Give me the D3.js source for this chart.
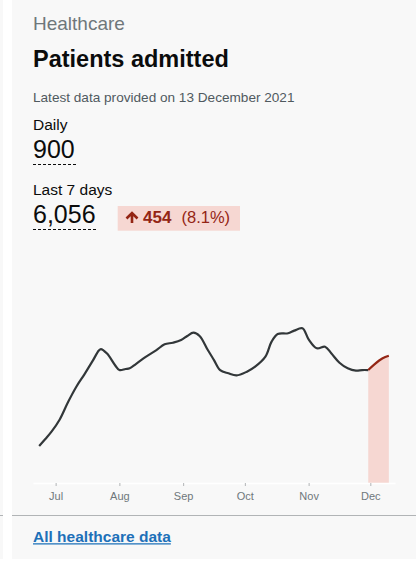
<!DOCTYPE html>
<html>
<head>
<meta charset="utf-8">
<script src="https://cdn.jsdelivr.net/npm/d3@7"></script>
<style>
  html, body { margin: 0; padding: 0; background: #fff; }
  svg { display: block; font-family: "Liberation Sans", Arial, sans-serif; }
</style>
</head>
<body>
<div id="card"></div>
<script>
// 7 day average of patients admitted
var dates = ['2021-06-23', '2021-06-26', '2021-06-29', '2021-07-03', '2021-07-07', '2021-07-11',
    '2021-07-15', '2021-07-19', '2021-07-22', '2021-07-23', '2021-07-26', '2021-07-30', '2021-08-01',
    '2021-08-04', '2021-08-06', '2021-08-09',
    '2021-08-14', '2021-08-19', '2021-08-23', '2021-08-27', '2021-08-31', '2021-09-03', '2021-09-06',
    '2021-09-09', '2021-09-13', '2021-09-16', '2021-09-19', '2021-09-23', '2021-09-27', '2021-10-02',
    '2021-10-06', '2021-10-11', '2021-10-14', '2021-10-17', '2021-10-22', '2021-10-25', '2021-10-29',
    '2021-11-01', '2021-11-05', '2021-11-09', '2021-11-12', '2021-11-16', '2021-11-20', '2021-11-24',
    '2021-11-27', '2021-11-30', '2021-12-03', '2021-12-07', '2021-12-10'];
var values = [252, 299, 349, 432, 549, 653,
    739, 830, 901, 911, 880, 799, 768,
    775, 780, 809,
    859, 904, 943, 954, 972, 1000, 1022,
    1000, 904, 836, 768, 746, 732, 757,
    791, 859, 961, 1013, 1018, 1036, 1052,
    977, 916, 927, 882, 818, 780, 764,
    768, 768, 807, 848, 865];
var highlight_from = '2021-11-30';
var x_domain = ['2021-06-20', '2021-12-13'];

var section = 'Healthcare';
var title = 'Patients admitted';
var updated = 'Latest data provided on 13 December 2021';
var daily_label = 'Daily', daily_value = '900';
var week_label = 'Last 7 days', week_value = '6,056';
var change_value = '454', change_pct = '(8.1%)';
var link_text = 'All healthcare data';

var parseDate = d3.timeParse('%Y-%m-%d');
var data = dates.map(function (d, i) {
    return {date: parseDate(d), value: values[i]};
});
var hl = parseDate(highlight_from);

var svg = d3.select('#card').append('svg')
    .attr('width', 417)
    .attr('height', 580);

// neighbour card peeking in on the left
svg.append('rect').attr('x', 0).attr('y', 0).attr('width', 3).attr('height', 559).attr('fill', '#f8f8f8');
svg.append('line').attr('x1', 0).attr('x2', 3).attr('y1', 515.5).attr('y2', 515.5)
    .attr('stroke', '#b1b4b6');

// the card
svg.append('rect').attr('x', 12).attr('y', 0).attr('width', 404).attr('height', 559).attr('fill', '#f8f8f8');

svg.append('text').attr('x', 33).attr('y', 30)
    .style('font-size', '19px').attr('fill', '#6f777b').text(section);
svg.append('text').attr('x', 33).attr('y', 66.5)
    .style('font-size', '23.5px').style('font-weight', 'bold').attr('fill', '#0b0c0c').text(title);
svg.append('text').attr('x', 33).attr('y', 101.5)
    .style('font-size', '13.6px').attr('fill', '#505a5f').text(updated);

function headline(label, value, y) {
    svg.append('text').attr('x', 33).attr('y', y)
        .style('font-size', '15.5px').attr('fill', '#0b0c0c').text(label);
    var t = svg.append('text').attr('x', 33).attr('y', y + 28.3)
        .style('font-size', '25px').attr('fill', '#0b0c0c').text(value);
    var w = t.node().getComputedTextLength();
    svg.append('line').attr('x1', 33).attr('x2', 33 + w + 2)
        .attr('y1', y + 34.5).attr('y2', y + 34.5)
        .attr('stroke', '#0b0c0c').attr('stroke-dasharray', '3,2');
}
headline(daily_label, daily_value, 130);
headline(week_label, week_value, 195);

// change badge
var badge = svg.append('g');
badge.append('rect').attr('x', 117.7).attr('y', 206).attr('width', 122.3).attr('height', 24.7)
    .attr('fill', '#f6d7d2');
badge.append('path')
    .attr('d', 'M132,223V213.5M126.5,218.5L132,213L137.5,218.5')
    .attr('fill', 'none').attr('stroke', '#942514').attr('stroke-width', 2.6);
badge.append('text').attr('x', 143).attr('y', 223.3)
    .style('font-size', '17px').style('font-weight', 'bold').attr('fill', '#942514').text(change_value);
badge.append('text').attr('x', 181.5).attr('y', 223.3)
    .style('font-size', '16.5px').attr('fill', '#942514').text(change_pct);

// sparkline
var x = d3.scaleTime()
    .domain(x_domain.map(parseDate))
    .range([33, 395]);
var y = d3.scaleLinear()
    .domain([0, 1100])
    .range([483, 483 - 1100 / 6.8]);

var before = data.filter(function (d) { return d.date <= hl; });
var after = data.filter(function (d) { return d.date >= hl; });

svg.append('path')
    .datum(after)
    .attr('fill', '#f6d7d2')
    .attr('d', d3.area()
        .curve(d3.curveCatmullRom.alpha(0.5))
        .x(function (d) { return x(d.date); })
        .y0(y(0))
        .y1(function (d) { return y(d.value); }));

var line = d3.line()
    .curve(d3.curveCatmullRom.alpha(0.5))
    .x(function (d) { return x(d.date); })
    .y(function (d) { return y(d.value); });

svg.append('path').datum(before)
    .attr('fill', 'none').attr('stroke', '#323739').attr('stroke-width', 2.2)
    .attr('stroke-linejoin', 'round').attr('d', line);
svg.append('path').datum(after)
    .attr('fill', 'none').attr('stroke', '#942514').attr('stroke-width', 2.2)
    .attr('stroke-linejoin', 'round').attr('d', line);

var axis = svg.append('g')
    .attr('transform', 'translate(0,' + y(0) + ')')
    .call(d3.axisBottom(x)
        .ticks(d3.timeMonth.every(1))
        .tickFormat(d3.timeFormat('%b'))
        .tickSize(3)
        .tickPadding(6)
        .tickSizeOuter(0));
axis.select('.domain').attr('stroke', '#ffffff').attr('stroke-width', 1.5);
axis.selectAll('.tick line').attr('stroke', '#b1b4b6');
axis.selectAll('.tick text')
    .attr('fill', '#6f777b')
    .style('font-size', '11px')
    .style('font-family', '"Liberation Sans", Arial, sans-serif');

// footer
svg.append('line').attr('x1', 12).attr('x2', 416).attr('y1', 515.5).attr('y2', 515.5)
    .attr('stroke', '#b1b4b6');
var link = svg.append('text').attr('x', 33).attr('y', 541.5)
    .style('font-size', '15.5px').style('font-weight', 'bold').attr('fill', '#1d70b8').text(link_text);
var lw = link.node().getComputedTextLength();
svg.append('line').attr('x1', 33).attr('x2', 33 + lw).attr('y1', 543.8).attr('y2', 543.8)
    .attr('stroke', '#1d70b8').attr('stroke-width', 1.3);
</script>
</body>
</html>
